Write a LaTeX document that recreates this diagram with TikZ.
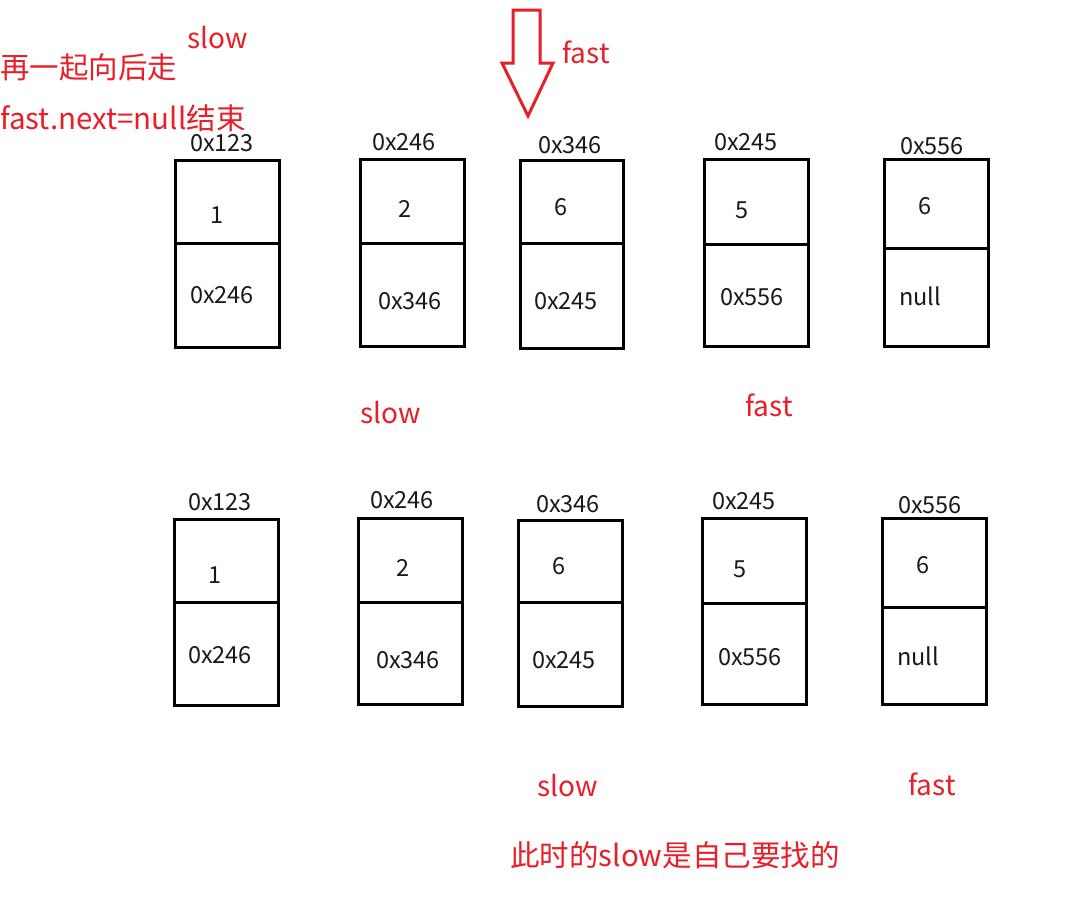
\documentclass[tikz,border=0pt]{standalone}
\usepackage{fontspec}
\setmainfont{Noto Sans CJK SC}
\definecolor{redtxt}{RGB}{232,30,40}
\definecolor{txt}{RGB}{25,25,25}
\begin{document}
\begin{tikzpicture}[x=1pt,y=-1pt,
  cellbox/.style={draw=black,line width=3pt,inner sep=0pt,outer sep=0pt,anchor=north west},
  blk/.style={text=txt,font=\fontsize{23.5}{26}\selectfont,inner sep=0pt},
  redlab/.style={text=redtxt,font=\fontsize{28}{31}\selectfont,inner sep=0pt},
  redcjk/.style={text=redtxt,font=\fontsize{29.5}{32}\selectfont,inner sep=0pt}]
\useasboundingbox[fill=white] (0,0) rectangle (1086,919);
\foreach \n/\l/\r/\t/\d/\b/\ax/\ay/\vx/\vy/\nx/\ny/\A/\V/\N in {
 a1/175/279/160/243/347/222/143/217/215/222/295/0x123/1/0x246,
 a2/360/464/159/243/346/404/142/405/209/410/301/0x246/2/0x346,
 a3/520/623/160/243/348/570/145/561/207/566/301/0x346/6/0x245,
 a4/704/808/159/244/346/746/142/742/210/752/297/0x245/5/0x556,
 a5/884/988/159/248/346/932/146/925/206/920/296/0x556/6/null,
 b1/174/278/519/602/705/220/502/215/575/220/655/0x123/1/0x246,
 b2/358/462/518/602/704/402/500/403/568/408/660/0x246/2/0x346,
 b3/518/622/520/602/706/568/504/559/566/564/660/0x346/6/0x245,
 b4/702/806/518/603/704/744/501/740/569/750/657/0x245/5/0x556,
 b5/882/986/518/607/704/930/505/923/565/918/656/0x556/6/null}{
  \node[cellbox,minimum width={(\r-\l)*1pt},minimum height={(\b-\t)*1pt}] (box\n) at (\l,\t) {};
  \draw[line width=3pt] (\l,\d) -- (\r,\d);
  \node[blk] (addr\n) at (\ax,\ay) {\A};
  \node[blk] (val\n) at (\vx,\vy) {\V};
  \node[blk] (next\n) at (\nx,\ny) {\N};
}
% red labels
\node[redlab] (slowtop) at (218,38) {slow};
\node[redcjk,anchor=west] (again) at (0,67) {再一起向后走};
\node[redcjk,anchor=west] (endcond) at (0,118) {fast.next=null结束};
\node[redlab] (fasttop) at (586,52) {fast};
\node[redlab] (slow1) at (391,413) {slow};
\node[redlab] (fast1) at (769,405) {fast};
\node[redlab] (slow2) at (568,786) {slow};
\node[redlab] (fast2) at (932,784) {fast};
\node[redcjk] (concl) at (675,855) {此时的slow是自己要找的};
% hollow arrow
\draw[redtxt,line width=3pt,line join=miter] (513,10) -- (540,10) -- (540,63) -- (553,63) -- (528,116) -- (502,63) -- (513,63) -- cycle;
\end{tikzpicture}
\end{document}
